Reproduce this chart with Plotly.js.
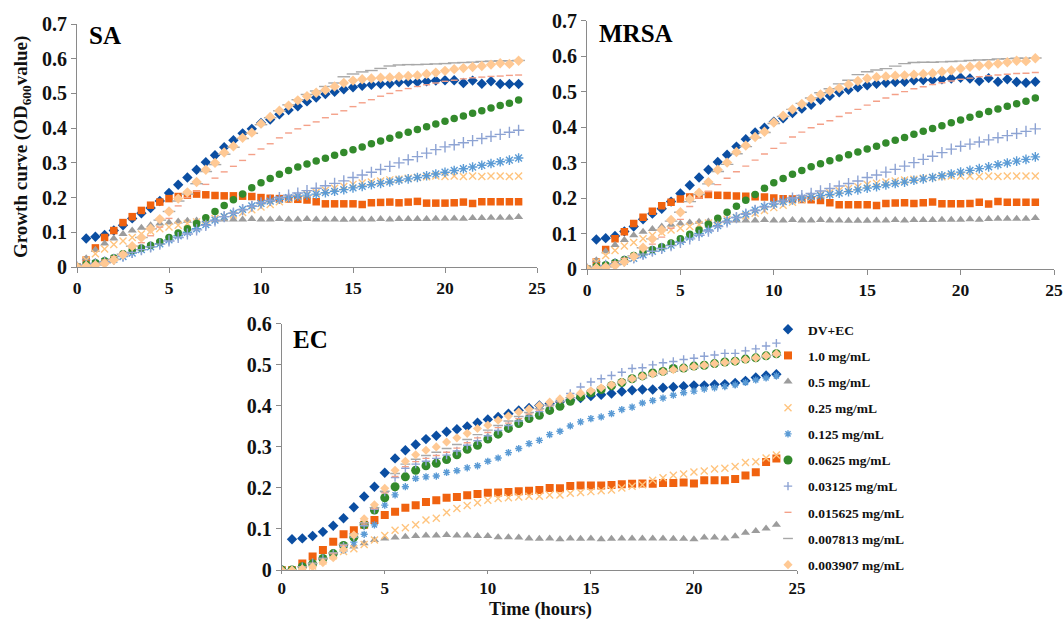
<!DOCTYPE html>
<html>
<head>
<meta charset="utf-8">
<script src="https://cdn.plot.ly/plotly-3.0.1.min.js"></script>
<style>
  html, body { margin: 0; padding: 0; background: #ffffff; }
  #chart { width: 1064px; height: 621px; }
</style>
</head>
<body>
<div id="chart"></div>
<script>
// ---------------- DATA ----------------
const time = [0,0.5,1,1.5,2,2.5,3,3.5,4,4.5,5,5.5,6,6.5,7,7.5,8,8.5,9,9.5,10,10.5,11,11.5,12,12.5,13,13.5,14,14.5,15,15.5,16,16.5,17,17.5,18,18.5,19,19.5,20,20.5,21,21.5,22,22.5,23,23.5,24];

const seriesNames = ["DV+EC", "1.0 mg/mL", "0.5 mg/mL", "0.25 mg/mL", "0.125 mg/mL", "0.0625 mg/mL", "0.03125 mg/mL", "0.015625 mg/mL", "0.007813 mg/mL", "0.003907 mg/mL"];

const panelLabels = ["SA", "MRSA", "EC"];
const xTitle = "Time (hours)";
const yTitle = "Growth curve (OD<sub>600</sub>value)";

// SA
const sa_dv    = [0,0.082,0.087,0.092,0.105,0.12,0.14,0.155,0.17,0.19,0.213,0.237,0.258,0.28,0.302,0.322,0.345,0.365,0.385,0.398,0.415,0.425,0.44,0.452,0.463,0.477,0.488,0.498,0.505,0.512,0.518,0.522,0.525,0.527,0.528,0.532,0.533,0.533,0.535,0.537,0.538,0.538,0.53,0.537,0.528,0.535,0.527,0.527,0.527];
const sa_1000  = [0,0.02,0.055,0.085,0.105,0.128,0.145,0.163,0.178,0.187,0.197,0.203,0.207,0.21,0.208,0.206,0.205,0.205,0.204,0.203,0.2,0.198,0.197,0.196,0.195,0.193,0.188,0.182,0.182,0.182,0.182,0.18,0.185,0.186,0.187,0.185,0.187,0.189,0.184,0.184,0.184,0.185,0.187,0.183,0.188,0.188,0.188,0.188,0.188];
const sa_500   = [0,0.025,0.05,0.068,0.082,0.095,0.105,0.113,0.12,0.125,0.128,0.131,0.133,0.134,0.135,0.136,0.137,0.137,0.137,0.138,0.137,0.137,0.138,0.137,0.137,0.138,0.137,0.137,0.137,0.136,0.137,0.137,0.137,0.138,0.137,0.138,0.138,0.138,0.138,0.139,0.139,0.14,0.139,0.141,0.141,0.142,0.142,0.142,0.144];
const sa_250   = [0,0.02,0.038,0.052,0.065,0.075,0.085,0.095,0.103,0.11,0.115,0.12,0.125,0.13,0.135,0.14,0.145,0.15,0.157,0.165,0.173,0.18,0.188,0.195,0.202,0.209,0.215,0.221,0.227,0.232,0.238,0.242,0.245,0.248,0.251,0.253,0.256,0.258,0.26,0.262,0.261,0.262,0.261,0.262,0.261,0.262,0.262,0.261,0.262];
const sa_125   = [0,0.005,0.01,0.015,0.022,0.03,0.04,0.05,0.058,0.067,0.078,0.09,0.1,0.11,0.122,0.135,0.145,0.155,0.166,0.176,0.183,0.19,0.195,0.2,0.204,0.207,0.21,0.214,0.218,0.223,0.228,0.232,0.237,0.241,0.245,0.25,0.254,0.258,0.263,0.268,0.273,0.278,0.283,0.288,0.293,0.298,0.303,0.308,0.314];
const sa_0625  = [0,0.008,0.012,0.018,0.027,0.038,0.048,0.055,0.063,0.073,0.085,0.098,0.11,0.125,0.142,0.16,0.177,0.194,0.21,0.228,0.243,0.255,0.267,0.278,0.288,0.297,0.305,0.313,0.322,0.33,0.338,0.346,0.355,0.363,0.371,0.38,0.388,0.396,0.404,0.412,0.42,0.428,0.435,0.443,0.45,0.458,0.465,0.472,0.481];
const sa_0313  = [0,0.005,0.01,0.015,0.022,0.032,0.042,0.05,0.058,0.066,0.075,0.085,0.095,0.107,0.12,0.133,0.145,0.155,0.165,0.175,0.185,0.192,0.2,0.207,0.213,0.22,0.227,0.234,0.241,0.248,0.258,0.265,0.273,0.281,0.29,0.3,0.309,0.318,0.328,0.338,0.346,0.352,0.358,0.364,0.37,0.376,0.382,0.388,0.394];
const sa_0156  = [0,0.005,0.01,0.02,0.03,0.042,0.055,0.07,0.09,0.115,0.14,0.176,0.2,0.218,0.238,0.256,0.274,0.29,0.307,0.324,0.34,0.355,0.372,0.386,0.398,0.408,0.418,0.43,0.44,0.45,0.462,0.473,0.482,0.492,0.5,0.508,0.514,0.52,0.525,0.53,0.535,0.538,0.542,0.545,0.547,0.549,0.55,0.552,0.553];
const sa_0078  = [0,0.003,0.006,0.012,0.022,0.037,0.06,0.085,0.11,0.135,0.16,0.19,0.21,0.24,0.275,0.295,0.325,0.345,0.37,0.385,0.41,0.43,0.45,0.467,0.482,0.497,0.507,0.52,0.53,0.548,0.556,0.562,0.566,0.572,0.579,0.582,0.583,0.583,0.584,0.585,0.586,0.588,0.589,0.59,0.592,0.593,0.594,0.594,0.595];
const sa_0039  = [0,0.003,0.005,0.01,0.02,0.035,0.06,0.085,0.11,0.138,0.16,0.197,0.215,0.245,0.28,0.3,0.33,0.348,0.372,0.387,0.413,0.432,0.45,0.465,0.48,0.492,0.502,0.51,0.52,0.53,0.537,0.541,0.543,0.545,0.546,0.548,0.55,0.552,0.556,0.56,0.565,0.57,0.573,0.576,0.579,0.583,0.587,0.585,0.594];

// MRSA
const mrsa_dv   = [0,0.083,0.087,0.093,0.106,0.12,0.14,0.156,0.17,0.19,0.213,0.236,0.258,0.28,0.302,0.322,0.345,0.366,0.385,0.398,0.415,0.425,0.44,0.452,0.463,0.477,0.488,0.498,0.505,0.512,0.518,0.522,0.525,0.527,0.528,0.532,0.533,0.533,0.535,0.537,0.539,0.537,0.53,0.538,0.528,0.535,0.527,0.525,0.528];
const mrsa_1000 = [0,0.02,0.055,0.085,0.105,0.128,0.146,0.163,0.178,0.188,0.197,0.203,0.208,0.21,0.208,0.207,0.206,0.205,0.204,0.203,0.2,0.198,0.197,0.196,0.195,0.193,0.187,0.181,0.181,0.181,0.181,0.179,0.185,0.186,0.187,0.185,0.187,0.189,0.184,0.184,0.184,0.185,0.188,0.183,0.19,0.188,0.188,0.188,0.188];
const mrsa_500  = [0,0.025,0.05,0.068,0.082,0.095,0.105,0.113,0.12,0.125,0.128,0.131,0.133,0.134,0.135,0.136,0.137,0.137,0.137,0.138,0.137,0.137,0.138,0.137,0.137,0.138,0.137,0.137,0.136,0.136,0.136,0.137,0.137,0.138,0.137,0.138,0.138,0.138,0.139,0.139,0.139,0.14,0.139,0.141,0.142,0.142,0.142,0.142,0.144];
const mrsa_250  = [0,0.02,0.038,0.052,0.065,0.075,0.085,0.095,0.103,0.11,0.115,0.12,0.125,0.13,0.135,0.14,0.145,0.15,0.157,0.165,0.173,0.18,0.188,0.195,0.202,0.209,0.215,0.221,0.227,0.232,0.238,0.242,0.245,0.248,0.251,0.253,0.256,0.258,0.26,0.262,0.262,0.262,0.261,0.262,0.261,0.262,0.262,0.262,0.262];
const mrsa_125  = [0,0.004,0.009,0.015,0.022,0.03,0.04,0.05,0.058,0.067,0.078,0.09,0.1,0.11,0.122,0.135,0.145,0.155,0.166,0.176,0.183,0.19,0.195,0.2,0.204,0.207,0.21,0.214,0.218,0.223,0.228,0.232,0.237,0.241,0.245,0.25,0.254,0.258,0.263,0.268,0.273,0.278,0.283,0.288,0.294,0.299,0.304,0.309,0.316];
const mrsa_0625 = [0,0.008,0.012,0.018,0.027,0.038,0.048,0.055,0.063,0.073,0.085,0.098,0.11,0.126,0.143,0.16,0.177,0.194,0.21,0.228,0.243,0.255,0.267,0.278,0.288,0.297,0.305,0.313,0.322,0.33,0.338,0.346,0.355,0.363,0.371,0.38,0.388,0.396,0.404,0.412,0.42,0.428,0.436,0.444,0.451,0.459,0.466,0.473,0.482];
const mrsa_0313 = [0,0.005,0.01,0.015,0.022,0.032,0.042,0.05,0.058,0.066,0.075,0.085,0.095,0.107,0.12,0.133,0.145,0.155,0.165,0.175,0.185,0.192,0.2,0.207,0.213,0.22,0.227,0.234,0.241,0.248,0.258,0.265,0.273,0.281,0.29,0.3,0.309,0.318,0.328,0.338,0.346,0.352,0.358,0.364,0.37,0.376,0.382,0.388,0.395];
const mrsa_0156 = [0,0.005,0.01,0.02,0.03,0.042,0.055,0.07,0.09,0.115,0.14,0.176,0.2,0.218,0.238,0.256,0.274,0.29,0.307,0.324,0.34,0.355,0.372,0.386,0.398,0.408,0.418,0.43,0.44,0.45,0.462,0.473,0.482,0.492,0.5,0.508,0.514,0.52,0.525,0.53,0.535,0.538,0.542,0.545,0.547,0.549,0.551,0.552,0.554];
const mrsa_0078 = [0,0.003,0.006,0.012,0.022,0.037,0.06,0.085,0.11,0.135,0.16,0.19,0.21,0.24,0.275,0.295,0.325,0.345,0.37,0.385,0.41,0.43,0.45,0.467,0.482,0.497,0.508,0.522,0.532,0.548,0.556,0.561,0.565,0.572,0.579,0.582,0.583,0.583,0.584,0.585,0.586,0.588,0.589,0.59,0.592,0.593,0.594,0.594,0.595];
const mrsa_0039 = [0,0.003,0.005,0.01,0.02,0.035,0.06,0.085,0.11,0.138,0.16,0.197,0.215,0.245,0.28,0.3,0.33,0.348,0.372,0.387,0.413,0.432,0.45,0.465,0.48,0.492,0.502,0.51,0.52,0.53,0.537,0.541,0.543,0.545,0.546,0.548,0.55,0.552,0.556,0.56,0.565,0.57,0.573,0.576,0.579,0.583,0.587,0.586,0.594];

// EC
const ec_dv    = [0,0.075,0.077,0.083,0.093,0.108,0.126,0.153,0.179,0.203,0.237,0.272,0.292,0.306,0.319,0.327,0.337,0.343,0.35,0.359,0.367,0.373,0.381,0.389,0.395,0.401,0.406,0.41,0.414,0.419,0.424,0.427,0.43,0.435,0.438,0.44,0.44,0.444,0.446,0.448,0.45,0.45,0.452,0.453,0.456,0.461,0.469,0.474,0.477];
const ec_1000  = [0,0,0.016,0.033,0.049,0.069,0.087,0.097,0.11,0.122,0.134,0.142,0.152,0.158,0.166,0.17,0.176,0.178,0.182,0.185,0.188,0.189,0.19,0.192,0.193,0.195,0.2,0.199,0.205,0.206,0.206,0.206,0.207,0.209,0.21,0.211,0.21,0.212,0.212,0.213,0.211,0.219,0.219,0.219,0.222,0.23,0.238,0.263,0.272];
const ec_500   = [0,0,0.01,0.02,0.03,0.042,0.05,0.057,0.065,0.073,0.077,0.079,0.081,0.083,0.084,0.084,0.085,0.084,0.084,0.083,0.083,0.08,0.08,0.079,0.077,0.076,0.077,0.075,0.077,0.076,0.077,0.075,0.076,0.077,0.077,0.077,0.077,0.077,0.076,0.076,0.075,0.079,0.079,0.077,0.082,0.091,0.095,0.101,0.11];
const ec_250   = [0,0,0.005,0.01,0.022,0.035,0.045,0.052,0.062,0.073,0.084,0.097,0.103,0.11,0.122,0.126,0.14,0.15,0.157,0.164,0.17,0.174,0.176,0.178,0.18,0.18,0.183,0.183,0.187,0.189,0.191,0.193,0.195,0.2,0.204,0.208,0.219,0.225,0.231,0.234,0.239,0.241,0.246,0.248,0.252,0.262,0.264,0.273,0.28];
const ec_125   = [0,0,0.005,0.012,0.022,0.033,0.048,0.068,0.087,0.11,0.158,0.183,0.203,0.223,0.227,0.229,0.238,0.242,0.249,0.254,0.265,0.273,0.286,0.296,0.308,0.316,0.33,0.338,0.351,0.361,0.369,0.373,0.381,0.391,0.397,0.407,0.413,0.419,0.426,0.432,0.436,0.441,0.444,0.447,0.451,0.457,0.463,0.468,0.473];
const ec_0625  = [0,0,0.008,0.015,0.028,0.04,0.06,0.08,0.11,0.146,0.176,0.203,0.227,0.243,0.254,0.26,0.269,0.281,0.294,0.304,0.319,0.331,0.345,0.357,0.369,0.377,0.389,0.399,0.411,0.422,0.432,0.44,0.449,0.457,0.466,0.473,0.48,0.484,0.491,0.492,0.497,0.499,0.503,0.507,0.509,0.514,0.517,0.522,0.527];
const ec_0313  = [0,0,0.008,0.016,0.028,0.04,0.058,0.08,0.108,0.148,0.19,0.225,0.248,0.258,0.265,0.272,0.28,0.29,0.304,0.315,0.327,0.34,0.352,0.363,0.375,0.386,0.4,0.415,0.43,0.446,0.458,0.466,0.474,0.482,0.491,0.493,0.5,0.505,0.508,0.513,0.516,0.521,0.524,0.528,0.528,0.534,0.539,0.546,0.553];
const ec_0156  = [0,0,0.008,0.016,0.027,0.04,0.06,0.085,0.112,0.15,0.188,0.228,0.252,0.264,0.272,0.279,0.287,0.297,0.31,0.322,0.335,0.347,0.358,0.369,0.38,0.39,0.4,0.41,0.42,0.43,0.439,0.447,0.455,0.462,0.469,0.475,0.481,0.486,0.49,0.494,0.498,0.501,0.504,0.507,0.51,0.514,0.518,0.522,0.526];
const ec_0078  = [0,0,0.008,0.016,0.028,0.042,0.062,0.088,0.115,0.152,0.192,0.235,0.258,0.27,0.279,0.287,0.296,0.306,0.318,0.33,0.341,0.352,0.363,0.374,0.384,0.393,0.402,0.411,0.42,0.428,0.436,0.443,0.45,0.456,0.462,0.468,0.474,0.479,0.484,0.488,0.492,0.496,0.5,0.503,0.507,0.511,0.515,0.519,0.523];
const ec_0039  = [0,0,0.003,0.008,0.018,0.03,0.05,0.085,0.125,0.159,0.199,0.243,0.265,0.281,0.292,0.3,0.312,0.322,0.333,0.345,0.353,0.365,0.375,0.385,0.392,0.401,0.409,0.417,0.424,0.431,0.437,0.444,0.451,0.458,0.466,0.472,0.478,0.483,0.488,0.492,0.496,0.499,0.503,0.506,0.509,0.513,0.517,0.522,0.527];

const saSeries   = [sa_dv, sa_1000, sa_500, sa_250, sa_125, sa_0625, sa_0313, sa_0156, sa_0078, sa_0039];
const mrsaSeries = [mrsa_dv, mrsa_1000, mrsa_500, mrsa_250, mrsa_125, mrsa_0625, mrsa_0313, mrsa_0156, mrsa_0078, mrsa_0039];
const ecSeries   = [ec_dv, ec_1000, ec_500, ec_250, ec_125, ec_0625, ec_0313, ec_0156, ec_0078, ec_0039];

// ---------------- STYLE ----------------
const styles = [
  {symbol: "diamond",         color: "#0B4EA2", size: 8,  ecSize: 8},
  {symbol: "square",          color: "#F0620F", size: 7.5,ecSize: 8},
  {symbol: "triangle-up",     color: "#9C9C9C", size: 8,  ecSize: 8},
  {symbol: "x-thin-open",     color: "#FFC47E", size: 7,  ecSize: 7},
  {symbol: "asterisk-open",   color: "#5B9BD5", size: 8,  ecSize: 6},
  {symbol: "circle",          color: "#338A2C", size: 7.5,ecSize: 9},
  {symbol: "cross-thin-open", color: "#8DA3D3", size: 8,  ecSize: 6},
  {symbol: "line-ew-open",    color: "#F4A088", size: 5,  ecSize: 5},
  {symbol: "line-ew-open",    color: "#A8A8A8", size: 9,  ecSize: 7},
  {symbol: "diamond",         color: "#FFC994", size: 8,  ecSize: 7}
];

const W = 1064, H = 621;
const FONT = "Liberation Serif, Times New Roman, serif";

const panels = [
  {series: saSeries,   xa: "x",  ya: "y",  legend: false},
  {series: mrsaSeries, xa: "x2", ya: "y2", legend: false},
  {series: ecSeries,   xa: "x3", ya: "y3", legend: true}
];

const traces = [];
panels.forEach(p => {
  p.series.forEach((vals, i) => {
    const st = styles[i];
    const open = st.symbol.indexOf("open") >= 0;
    traces.push({
      type: "scatter",
      mode: "markers",
      x: time,
      y: vals,
      xaxis: p.xa,
      yaxis: p.ya,
      name: seriesNames[i],
      legendgroup: "g" + i,
      showlegend: p.legend,
      hoverinfo: "skip",
      marker: {
        symbol: st.symbol,
        size: p.legend ? st.ecSize : st.size,
        color: st.color,
        line: open ? {color: st.color, width: 1.4} : {width: 0}
      }
    });
  });
});

function xAxis(domain, anchor) {
  return {
    domain: domain, anchor: anchor,
    range: [0, 25], tick0: 0, dtick: 5,
    showline: true, linecolor: "#8A8A8A", linewidth: 1,
    ticks: "outside", ticklen: 5, tickcolor: "#8A8A8A",
    showgrid: false, zeroline: false, fixedrange: true,
    tickfont: {family: FONT, size: 17.5, color: "#111111", weight: "bold"}
  };
}
function yAxis(domain, anchor, top) {
  return {
    domain: domain, anchor: anchor,
    range: [0, top], tick0: 0, dtick: 0.1,
    showline: true, linecolor: "#8A8A8A", linewidth: 1,
    ticks: "outside", ticklen: 5, tickcolor: "#8A8A8A",
    showgrid: false, zeroline: false, fixedrange: true,
    tickfont: {family: FONT, size: 20, color: "#111111", weight: "bold"}
  };
}

const px = v => v / W;
const py = v => 1 - v / H;

const ecX = xAxis([px(281.7), px(797)], "y3");
ecX.ticklen = 3;
ecX.tickfont = {family: FONT, size: 17, color: "#111111", weight: "bold"};

const layout = {
  width: W, height: H,
  margin: {l: 0, r: 0, t: 0, b: 0},
  paper_bgcolor: "#ffffff",
  plot_bgcolor: "rgba(0,0,0,0)",
  showlegend: true,
  xaxis:  xAxis([px(77), px(537)], "y"),
  yaxis:  yAxis([py(267), py(24)], "x", 0.7),
  xaxis2: xAxis([px(587), px(1054)], "y2"),
  yaxis2: yAxis([py(269), py(20.7)], "x2", 0.7),
  xaxis3: ecX,
  yaxis3: yAxis([py(570), py(323.8)], "x3", 0.6),
  legend: {
    x: px(768), y: py(314), xanchor: "left", yanchor: "top",
    bgcolor: "rgba(0,0,0,0)", borderwidth: 0,
    tracegroupgap: 5.6, itemsizing: "trace",
    font: {family: FONT, size: 13.5, color: "#111111", weight: "bold"}
  },
  annotations: [
    {text: panelLabels[0], xref: "paper", yref: "paper", x: px(87), y: py(35), xanchor: "left", yanchor: "middle", showarrow: false,
     font: {family: FONT, size: 25, color: "#000000", weight: "bold"}},
    {text: panelLabels[1], xref: "paper", yref: "paper", x: px(597), y: py(33), xanchor: "left", yanchor: "middle", showarrow: false,
     font: {family: FONT, size: 25, color: "#000000", weight: "bold"}},
    {text: panelLabels[2], xref: "paper", yref: "paper", x: px(291), y: py(339), xanchor: "left", yanchor: "middle", showarrow: false,
     font: {family: FONT, size: 25, color: "#000000", weight: "bold"}},
    {text: yTitle, xref: "paper", yref: "paper", x: px(22), y: py(147), xanchor: "center", yanchor: "middle", textangle: -90, showarrow: false,
     font: {family: FONT, size: 19, color: "#111111", weight: "bold"}},
    {text: xTitle, xref: "paper", yref: "paper", x: px(540), y: py(609.5), xanchor: "center", yanchor: "middle", showarrow: false,
     borderpad: 0, font: {family: FONT, size: 18.5, color: "#111111", weight: "bold"}}
  ]
};

Plotly.newPlot("chart", traces, layout, {displayModeBar: false, staticPlot: true});
</script>
</body>
</html>
